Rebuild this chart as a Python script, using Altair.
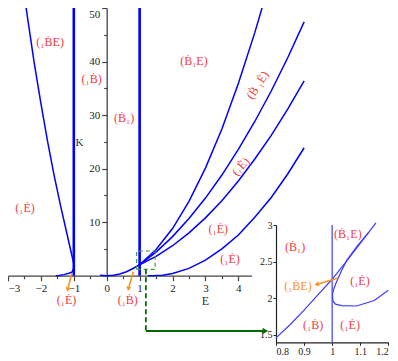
import altair as alt
import pandas as pd

# ---------------- main panel data (E, K) ----------------
vline_E = [-1, -1, 1, 1]
vline_K = [0, 50, 0, 50]
vline_id = ["m", "m", "p", "p"]

left_upper_E = [-1.0, -1.1, -1.2, -1.4, -1.6, -1.8, -2.0, -2.2, -2.45]
left_upper_K = [2.2, 4.9, 7.6, 13.0, 18.8, 25.2, 32.2, 39.6, 50.0]
left_lower_E = [-1.55, -1.45, -1.3, -1.15, -1.06, -1.0]
left_lower_K = [0.0, 0.05, 0.2, 0.45, 0.65, 1.4]
curveA_E = [-0.2, 0.0, 0.2, 0.4, 0.6, 0.8, 1.0, 1.5, 2.0, 2.5, 3.0, 3.5, 4.0, 4.5, 4.72]
curveA_K = [0.08, 0.0, 0.08, 0.33, 0.75, 1.35, 2.05, 4.9, 8.8, 13.9, 20.1, 27.4, 35.9, 45.4, 50.0]
curveB_E = [1.0, 1.5, 2.0, 2.5, 3.0, 3.5, 4.0, 4.5, 5.0, 5.5, 6.0]
curveB_K = [2.05, 4.4, 7.3, 10.7, 14.5, 18.8, 23.6, 28.8, 34.5, 40.7, 47.4]
curveC_E = [1.0, 1.5, 2.0, 2.5, 3.0, 3.5, 4.0, 4.5, 5.0, 5.5, 6.0]
curveC_K = [2.05, 3.6, 5.6, 8.0, 10.8, 14.0, 17.7, 21.8, 26.2, 31.1, 36.4]
curveD_E = [1.25, 1.45, 1.7, 2.0, 2.5, 3.0, 3.5, 4.0, 4.5, 5.0, 5.5, 6.0]
curveD_K = [0.0, 0.02, 0.1, 0.41, 1.37, 2.9, 5.0, 7.6, 10.9, 14.6, 19.0, 23.9]

main_labels = ["(\u2081\u1E02E)", "(\u2081\u1E02)", "(\u1E02\u2081)", "(\u1E02\u2081E)",
               "(\u2081\u0116)", "(\u2081\u0116)", "(\u2081\u0116)", "(\u2081\u0116)", "(\u2081\u1E02)"]
main_labels_E = [-1.72, -0.46, 0.53, 2.65, 3.39, 3.75, -2.48, -1.22, 0.64]
main_labels_K = [43.7, 36.7, 29.4, 40.1, 8.7, 3.1, 12.6, -4.5, -4.5]

rot1_label = ["(\u1E02 \u2081\u0116)"]
rot1_E = [4.58]
rot1_K = [35.6]
rot2_label = ["(\u2081\u0116)"]
rot2_E = [4.07]
rot2_K = [20.4]

arrow1_E = [-1.064, -1.17]
arrow1_K = [0.45, -2.2]
arrow2_E = [0.81, 0.675]
arrow2_K = [0.75, -2.05]
arrowhead_E = [-1.185, 0.66]
arrowhead_K = [-2.6, -2.45]

zoom_box_E = [0.91, 1.47, 1.47, 0.91, 0.91]
zoom_box_K = [1.2, 1.2, 4.61, 4.61, 1.2]
drop_E = [1.19, 1.19]
drop_K = [1.2, -10.33]
lead_E = [1.19, 4.82]
lead_K = [-10.33, -10.33]
lead_head_E = [4.82]
lead_head_K = [-10.33]

# ---------------- inset data (x, y) ----------------
in_line_x = [0.8, 0.85, 0.9, 0.95, 1.0, 1.05, 1.1, 1.156]
in_line_y = [1.46, 1.64, 1.84, 2.05, 2.26, 2.50, 2.75, 3.03]
in_branch_x = [1.13, 1.117, 1.087, 1.052, 1.03, 1.015, 1.005, 1.001, 1.003, 1.012, 1.034, 1.087, 1.15, 1.2]
in_branch_y = [2.90, 2.84, 2.70, 2.52, 2.35, 2.22, 2.12, 2.05, 1.96, 1.92, 1.90, 1.895, 1.97, 2.11]
in_vline_x = [1.0, 1.0]
in_vline_y = [1.4, 3.0]

in_labels = ["(\u1E02\u2081E)", "(\u1E02\u2081)", "(\u2081\u0116)", "(\u2081\u1E02)", "(\u2081\u0116)"]
in_labels_x = [1.056, 0.868, 1.099, 0.932, 1.064]
in_labels_y = [2.877, 2.70, 2.24, 1.636, 1.636]
in_orange_label = ["(\u2081\u1E02E)"]
in_orange_x = [0.878]
in_orange_y = [2.17]
in_arrow_x = [1.021, 0.95]
in_arrow_y = [2.277, 2.195]
in_head_x = [0.945]
in_head_y = [2.19]

# ---------------- styles ----------------
FONT = "Liberation Serif"
BLUE = "#0000ff"
RED = "#f23c3c"
ORANGE = "#f7931e"
GREEN = "#006b00"
GREEN_DASH = "#3f9a3f"
AXIS_C = "#444444"
H = 353


def frame(xs, ys, name, xn="E", yn="K"):
    return pd.DataFrame({xn: xs, yn: ys, "s": name, "o": list(range(len(xs)))})


curves = pd.concat([
    frame(left_upper_E, left_upper_K, "lu"),
    frame(left_lower_E, left_lower_K, "ll"),
    frame(curveA_E, curveA_K, "A"),
    frame(curveB_E, curveB_K, "B"),
    frame(curveC_E, curveC_K, "C"),
    frame(curveD_E, curveD_K, "D"),
], ignore_index=True)
vlines = pd.DataFrame({"E": vline_E, "K": vline_K, "s": vline_id, "o": [0, 1, 0, 1]})
arrows = pd.concat([frame(arrow1_E, arrow1_K, "a1"), frame(arrow2_E, arrow2_K, "a2")], ignore_index=True)
heads = pd.DataFrame({"E": arrowhead_E, "K": arrowhead_K})
box = frame(zoom_box_E, zoom_box_K, "box")
drop = frame(drop_E, drop_K, "drop")
lead = frame(lead_E, lead_K, "lead")
lead_head = pd.DataFrame({"E": lead_head_E, "K": lead_head_K})
mlab = pd.DataFrame({"E": main_labels_E, "K": main_labels_K, "t": main_labels})
r1 = pd.DataFrame({"E": rot1_E, "K": rot1_K, "t": rot1_label})
r2 = pd.DataFrame({"E": rot2_E, "K": rot2_K, "t": rot2_label})

x_axis_main = alt.Axis(
    values=[-3, -2.5, -2, -1.5, -1, -0.5, 0, 0.5, 1, 1.5, 2, 2.5, 3, 3.5, 4],
    labelExpr="datum.value % 1 === 0 ? datum.label : ''",
    format="~g",
    tickSize={"condition": {"test": "datum.value % 1 !== 0", "value": 3}, "value": 5},
    offset=267.7 - H, orient="bottom", grid=False, labelFlush=True,
    title="E", titleX=197, titleY=25, titleAlign="center", titleBaseline="middle",
    titleFont=FONT, titleFontSize=12, titleFontWeight="normal", titleColor="#333333",
    labelFont=FONT, labelFontSize=11, labelColor="#222222", labelPadding=2,
    domainColor=AXIS_C, domainWidth=1.3, tickColor=AXIS_C, tickWidth=1.2,
)
y_axis_main = alt.Axis(
    values=[5, 10, 15, 20, 25, 30, 35, 40, 45, 50],
    labelExpr="datum.value % 10 === 0 ? datum.label : ''",
    format="~g",
    tickSize={"condition": {"test": "datum.value % 10 !== 0", "value": 3}, "value": 5},
    offset=-98.7, orient="left", grid=False, labelFlush=True,
    title="K", titleAngle=0, titleX=-27.7, titleY=134, titleAlign="center", titleBaseline="middle",
    titleFont=FONT, titleFontSize=11, titleFontWeight="normal", titleColor="#333333",
    labelFont=FONT, labelFontSize=11, labelColor="#222222", labelPadding=2,
    domainColor=AXIS_C, domainWidth=1.3, tickColor=AXIS_C, tickWidth=1.2,
)
xs_main = alt.Scale(domain=[-3, 4.4], range=[0, 243.5], nice=False, zero=False)
ys_main = alt.Scale(domain=[0, 50], range=[267.7, 0], nice=False, zero=False)


def MX():
    return alt.X("E:Q", scale=xs_main, axis=x_axis_main)


def MY():
    return alt.Y("K:Q", scale=ys_main, axis=y_axis_main)


main = alt.layer(
    alt.Chart(vlines).mark_line(color=BLUE, strokeWidth=2.6).encode(x=MX(), y=MY(), detail="s:N", order="o:Q"),
    alt.Chart(curves).mark_line(color=BLUE, strokeWidth=1.5).encode(x=MX(), y=MY(), detail="s:N", order="o:Q"),
    alt.Chart(box).mark_line(color=GREEN_DASH, strokeWidth=1.2, strokeDash=[4, 3]).encode(x=MX(), y=MY(), order="o:Q"),
    alt.Chart(drop).mark_line(color=GREEN, strokeWidth=1.8, strokeDash=[5, 3]).encode(x=MX(), y=MY(), order="o:Q"),
    alt.Chart(lead).mark_line(color=GREEN, strokeWidth=2.2).encode(x=MX(), y=MY(), order="o:Q"),
    alt.Chart(lead_head).mark_point(shape="triangle-right", filled=True, size=40, color=GREEN, opacity=1).encode(x=MX(), y=MY()),
    alt.Chart(arrows).mark_line(color=ORANGE, strokeWidth=1.6).encode(x=MX(), y=MY(), detail="s:N", order="o:Q"),
    alt.Chart(heads).mark_point(shape="triangle-down", filled=True, size=28, angle=14, color=ORANGE, opacity=1).encode(x=MX(), y=MY()),
    alt.Chart(mlab).mark_text(font=FONT, fontSize=12, color=RED).encode(x=MX(), y=MY(), text="t:N"),
    alt.Chart(r1).mark_text(font=FONT, fontSize=12, color=RED, angle=303).encode(x=MX(), y=MY(), text="t:N"),
    alt.Chart(r2).mark_text(font=FONT, fontSize=12, color=RED, angle=312).encode(x=MX(), y=MY(), text="t:N"),
)

# ---------------- inset ----------------
in_curves = pd.concat([
    frame(in_line_x, in_line_y, "line", "x", "y"),
    frame(in_branch_x, in_branch_y, "branch", "x", "y"),
    frame(in_vline_x, in_vline_y, "v", "x", "y"),
], ignore_index=True)
in_lab = pd.DataFrame({"x": in_labels_x, "y": in_labels_y, "t": in_labels})
in_olab = pd.DataFrame({"x": in_orange_x, "y": in_orange_y, "t": in_orange_label})
in_arr = frame(in_arrow_x, in_arrow_y, "arr", "x", "y")
in_head = pd.DataFrame({"x": in_head_x, "y": in_head_y})

x_axis_in = alt.Axis(
    values=[0.8, 0.9, 1.0, 1.1, 1.2], format="~g", offset=334.3 - H, orient="bottom", grid=False,
    title="", tickSize=3, labelFont=FONT, labelFontSize=10, labelColor="#222222", labelPadding=1,
    domainColor="#222222", domainWidth=1.2, tickColor="#222222",
)
y_axis_in = alt.Axis(
    values=[1.5, 2.0, 2.5, 3.0], format="~g", offset=-268, orient="left", grid=False,
    title="", tickSize=3, labelFont=FONT, labelFontSize=10, labelColor="#222222", labelPadding=1,
    domainColor="#222222", domainWidth=1.2, tickColor="#222222",
)
xs_in = alt.Scale(domain=[0.8, 1.2], range=[268, 380.3], nice=False, zero=False)
ys_in = alt.Scale(domain=[1.4, 3.0], range=[334.3, 217], nice=False, zero=False)


def IX():
    return alt.X("x:Q", scale=xs_in, axis=x_axis_in)


def IY():
    return alt.Y("y:Q", scale=ys_in, axis=y_axis_in)


inset = alt.layer(
    alt.Chart(in_curves).mark_line(color="#3c3cff", strokeWidth=1.2).encode(x=IX(), y=IY(), detail="s:N", order="o:Q"),
    alt.Chart(in_arr).mark_line(color=ORANGE, strokeWidth=1.5).encode(x=IX(), y=IY(), order="o:Q"),
    alt.Chart(in_head).mark_point(shape="triangle-left", filled=True, size=26, angle=343, color=ORANGE, opacity=1).encode(x=IX(), y=IY()),
    alt.Chart(in_lab).mark_text(font=FONT, fontSize=12, color=RED).encode(x=IX(), y=IY(), text="t:N"),
    alt.Chart(in_olab).mark_text(font=FONT, fontSize=12, color=ORANGE).encode(x=IX(), y=IY(), text="t:N"),
)

chart = alt.layer(main, inset).resolve_scale(x="independent", y="independent").properties(
    width=382, height=H, padding=0,
    autosize=alt.AutoSizeParams(type="none"),
).configure_view(strokeWidth=0).configure_axis(grid=False)

chart.save("out.html", embed_options={"renderer": "svg", "actions": False})
